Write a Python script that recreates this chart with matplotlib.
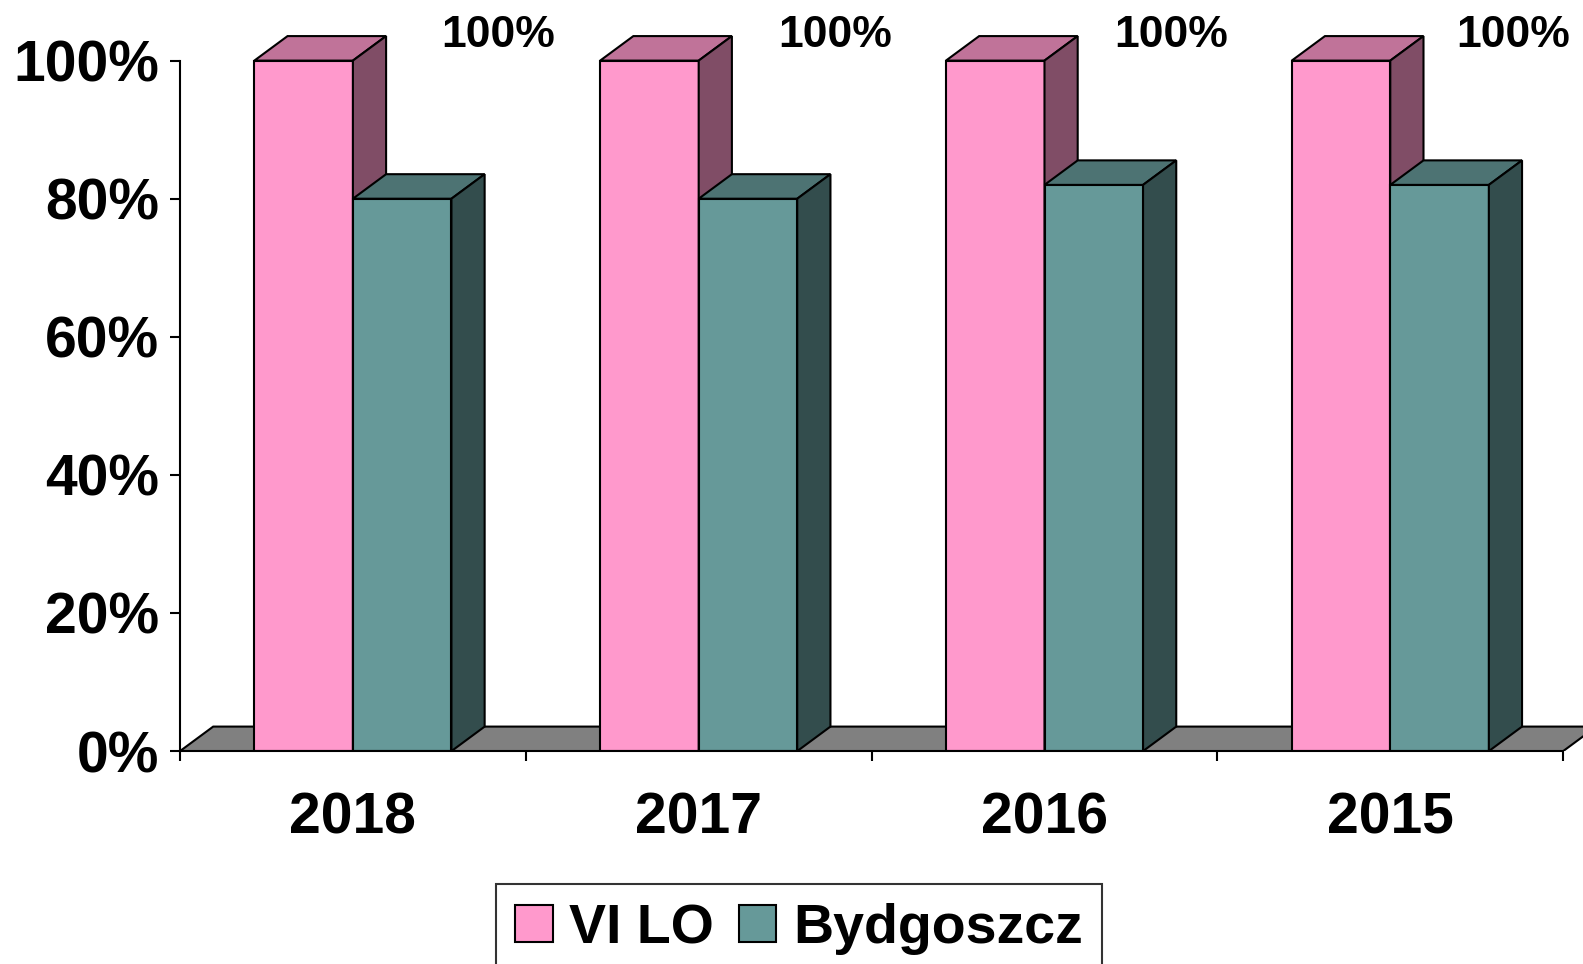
#! /usr/bin/env python

import matplotlib
matplotlib.use("Agg")
import matplotlib.pyplot as plt
from matplotlib.patches import Polygon, Patch

# chart data
years = ["2018", "2017", "2016", "2015"]
vilo = [100, 100, 100, 100]
bydgoszcz = [80, 80, 82, 82]
series_names = ["VI LO", "Bydgoszcz"]
yticks = [0, 20, 40, 60, 80, 100]
ytick_labels = ["0%", "20%", "40%", "60%", "80%", "100%"]
top_labels = ["100%", "100%", "100%", "100%"]

# look of the fake 3d
front = ["#FF99CC", "#669999"]
top = ["#C07399", "#4D7373"]
side = ["#804D66", "#334D4D"]
floor_color = "#808080"
bar_w = 0.285
dx, dy = 0.096, 3.55
label_dx = [0.92, 0.894, 0.866, 0.855]

plt.rcParams["font.family"] = ["Liberation Sans", "DejaVu Sans"]
plt.rcParams["font.weight"] = "bold"

fig = plt.figure(figsize=(15.83, 9.64), dpi=100)
ax = fig.add_axes([180 / 1583, (964 - 751.1) / 964, 1 - 180 / 1583, 751.1 / 964])
ax.set_xlim(0, (1583 - 180) / 345.8)
ax.set_ylim(0, 751.1 / 6.905)

n = len(years)
# floor
ax.add_patch(Polygon([(0, 0), (n, 0), (n + dx, dy), (dx, dy)], closed=True,
                     facecolor=floor_color, edgecolor="black", lw=1.5,
                     zorder=1, clip_on=True))

for i in range(n):
    lefts = [i + 0.5 - bar_w, i + 0.5]
    for k, vals in enumerate([vilo, bydgoszcz]):
        x0 = lefts[k]
        v = vals[i]
        z = 2 + k
        ax.bar(x0, v, width=bar_w, align="edge", color=front[k],
               edgecolor="black", lw=1.5, zorder=z)
        ax.add_patch(Polygon([(x0, v), (x0 + bar_w, v), (x0 + bar_w + dx, v + dy),
                              (x0 + dx, v + dy)], closed=True, facecolor=top[k],
                             edgecolor="black", lw=1.5, zorder=z))
        ax.add_patch(Polygon([(x0 + bar_w, 0), (x0 + bar_w + dx, dy),
                              (x0 + bar_w + dx, v + dy), (x0 + bar_w, v)], closed=True,
                             facecolor=side[k], edgecolor="black", lw=1.5, zorder=z))
    ax.text(i + label_dx[i], vilo[i] + 3.7, top_labels[i], ha="center", va="center",
            fontsize=32, fontweight="bold", zorder=5)

# axes
for s in ["top", "right"]:
    ax.spines[s].set_visible(False)
ax.spines["left"].set_bounds(0, 100)
ax.spines["bottom"].set_bounds(0, n)
ax.spines["left"].set_linewidth(1.5)
ax.spines["bottom"].set_linewidth(1.5)
ax.spines["bottom"].set_zorder(6)
ax.set_yticks(yticks)
ax.set_yticklabels(ytick_labels, fontsize=41, fontweight="bold")
ax.tick_params(axis="y", length=7, width=1.5, pad=8)
ax.set_xticks(range(n + 1))
ax.set_xticklabels([])
ax.tick_params(axis="x", which="major", length=7, width=1.5)
ax.set_xticks([i + 0.5 for i in range(n)], minor=True)
ax.set_xticklabels(years, minor=True, fontsize=41, fontweight="bold")
ax.tick_params(axis="x", which="minor", length=0, pad=29)

handles = [Patch(facecolor=front[0], edgecolor="black", lw=1.5),
           Patch(facecolor=front[1], edgecolor="black", lw=1.5)]
leg = fig.legend(handles, series_names, loc="upper left",
                 bbox_to_anchor=(496 / 1583, 1 - 884 / 964), ncol=2,
                 prop={"size": 40, "weight": "bold"}, frameon=True, fancybox=False,
                 edgecolor="black", borderpad=0.35, handlelength=0.67,
                 handleheight=0.65, handletextpad=0.3, columnspacing=0.45,
                 borderaxespad=0)
leg.get_frame().set_linewidth(1.5)

plt.savefig("out.png", dpi=100)
